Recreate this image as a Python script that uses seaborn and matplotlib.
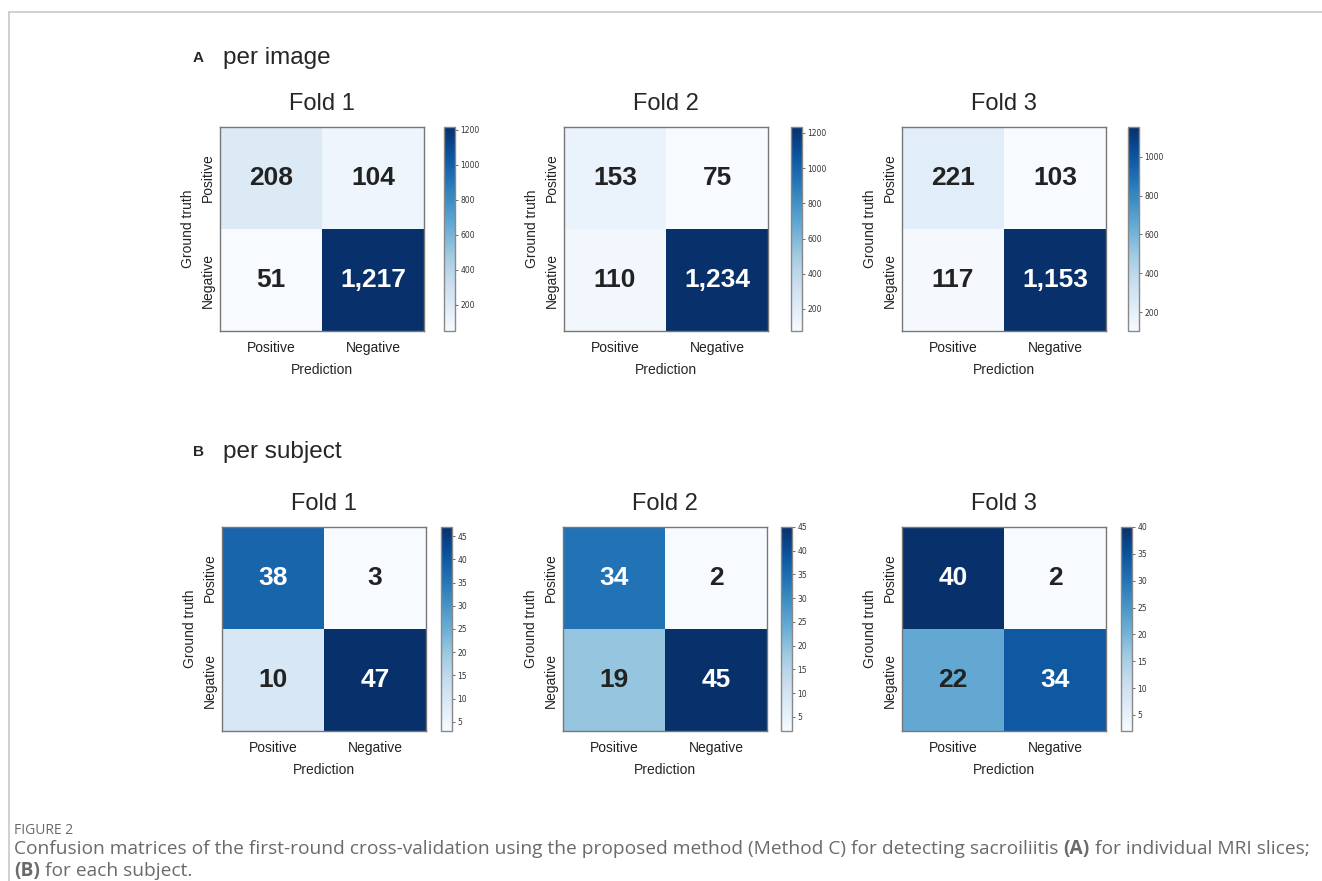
import numpy as np
import pandas as pd
import matplotlib
matplotlib.use('Agg')
import matplotlib.pyplot as plt
import seaborn as sns
from matplotlib.lines import Line2D

labels = ['Positive', 'Negative']
folds = ['Fold 1', 'Fold 2', 'Fold 3']

# per image confusion matrices (rows = ground truth, cols = prediction)
img_fold1 = [[208, 104], [51, 1217]]
img_fold2 = [[153, 75], [110, 1234]]
img_fold3 = [[221, 103], [117, 1153]]

# per subject confusion matrices
subj_fold1 = [[38, 3], [10, 47]]
subj_fold2 = [[34, 2], [19, 45]]
subj_fold3 = [[40, 2], [22, 34]]

img_ticks = [[200, 400, 600, 800, 1000, 1200],
             [200, 400, 600, 800, 1000, 1200],
             [200, 400, 600, 800, 1000]]
subj_ticks = [[5, 10, 15, 20, 25, 30, 35, 40, 45],
              [5, 10, 15, 20, 25, 30, 35, 40, 45],
              [5, 10, 15, 20, 25, 30, 35, 40]]

sns.set_theme(style='white')
plt.rcParams['font.family'] = ['Liberation Sans', 'DejaVu Sans']

W, H = 1322, 881
fig = plt.figure(figsize=(W / 100, H / 100), dpi=100)
fig.patch.set_facecolor('white')


def px_axes(x, y, w, h):
    # pixel box (top-left origin) -> figure axes
    return fig.add_axes([x / W, 1 - (y + h) / H, w / W, h / H])


def draw_cm(mat, title, hx, hy, cx, cw, ticks):
    ax = px_axes(hx, hy, 204, 204)
    cax = px_axes(cx, hy, cw, 204)
    df = pd.DataFrame(mat, index=labels, columns=labels)
    vmax = df.values.max()
    sns.heatmap(df, ax=ax, cbar_ax=cax, cmap='Blues', annot=True, fmt=',d',
                annot_kws={'fontsize': 19, 'fontweight': 'bold'},
                linewidths=0)
    for t, v in zip(ax.texts, df.values.flatten()):
        t.set_color('white' if v > 0.6 * vmax else '#222222')
    for s in ax.spines.values():
        s.set_visible(True)
        s.set_color('#777777')
        s.set_linewidth(1)
    ax.set_title(title, fontsize=17, pad=12)
    ax.set_xlabel('Prediction', fontsize=10, labelpad=6)
    ax.set_ylabel('Ground truth', fontsize=10, labelpad=4)
    ax.tick_params(axis='x', labelsize=10, length=2, pad=5, colors='#222222')
    ax.tick_params(axis='y', labelsize=10, length=2, pad=2, colors='#222222')
    ax.set_yticklabels(labels, rotation=90, va='center')
    ax.set_xticklabels(labels, rotation=0)
    cax.set_yticks(ticks)
    cax.set_yticklabels([str(t) for t in ticks], fontsize=5.5, family='DejaVu Sans')
    cax.tick_params(axis='y', length=2, width=0.5, pad=2, colors='#333333')
    cb = ax.collections[0].colorbar
    cb.outline.set_edgecolor('#888888')
    cb.outline.set_linewidth(1)
    return ax


img_mats = [img_fold1, img_fold2, img_fold3]
subj_mats = [subj_fold1, subj_fold2, subj_fold3]
hx_a = [220, 564, 902]
cx_a = [444, 791, 1128]
hx_b = [222, 563, 902]
cx_b = [441, 781, 1121]

for i in range(3):
    draw_cm(img_mats[i], folds[i], hx_a[i], 127, cx_a[i], 11, img_ticks[i])
    draw_cm(subj_mats[i], folds[i], hx_b[i], 527, cx_b[i], 11, subj_ticks[i])

# section headings
fig.text(193 / W, 1 - 58 / H, 'A', fontsize=11, fontweight='bold', va='center')
fig.text(223 / W, 1 - 58 / H, 'per image', fontsize=17.5, va='center')
fig.text(193 / W, 1 - 452 / H, 'B', fontsize=11, fontweight='bold', va='center')
fig.text(223 / W, 1 - 452 / H, 'per subject', fontsize=17.5, va='center')

# page frame lines
fig.add_artist(Line2D([9 / W, 1], [1 - 11.5 / H, 1 - 11.5 / H], color='#c8c8c8', lw=1.2))
fig.add_artist(Line2D([9 / W, 9 / W], [0, 1 - 11.5 / H], color='#c8c8c8', lw=1.2))

# caption
cap_color = '#6a6a6a'
fig.text(14 / W, 1 - 830 / H, 'FIGURE 2', fontsize=10, color=cap_color,
         va='center', family=['Open Sans', 'DejaVu Sans'])

renderer = fig.canvas.get_renderer()


def write_line(parts, x, y):
    for txt, bold in parts:
        t = fig.text(x / W, 1 - y / H, txt, fontsize=13.8, color=cap_color, va='center',
                     fontweight='bold' if bold else 'normal',
                     family=['Open Sans', 'DejaVu Sans'])
        bb = t.get_window_extent(renderer=renderer)
        x += bb.width


write_line([('Confusion matrices of the first-round cross-validation using the proposed method '
             '(Method C) for detecting sacroiliitis ', False), ('(A)', True),
            (' for individual MRI slices;', False)], 14, 849)
write_line([('(B)', True), (' for each subject.', False)], 14, 871)

fig.savefig('out.png', dpi=100, facecolor='white')
